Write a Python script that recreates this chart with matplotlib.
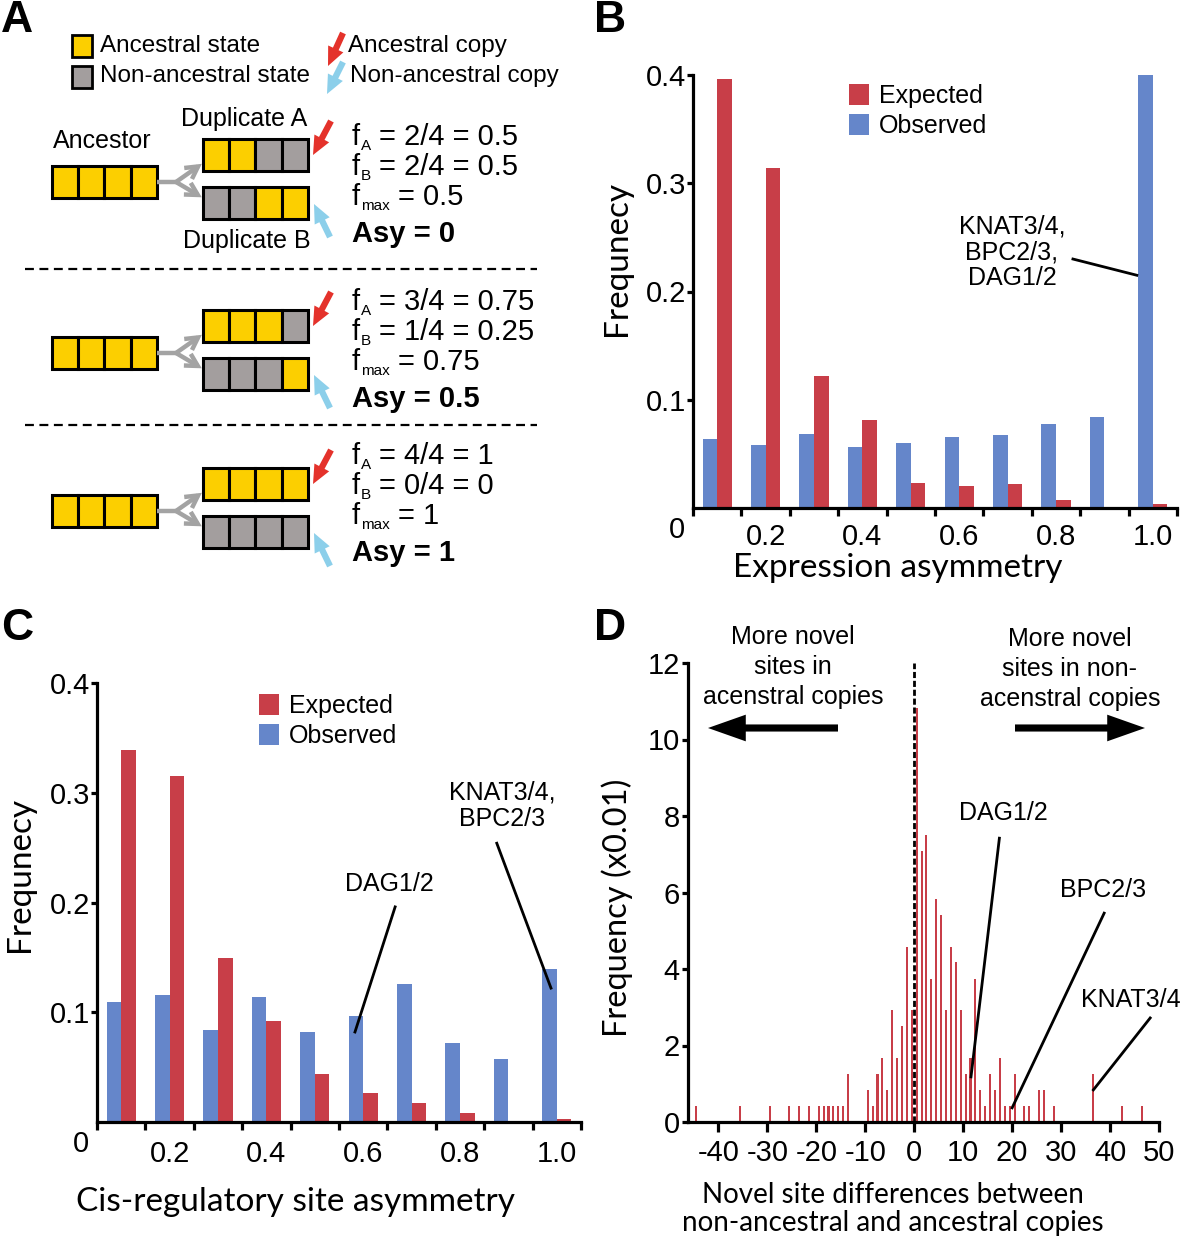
import numpy as np
import matplotlib
matplotlib.use("Agg")
import matplotlib.pyplot as plt
from matplotlib.patches import Rectangle, FancyArrowPatch
from matplotlib.ticker import FixedLocator

plt.rcParams['font.family'] = ['Liberation Sans', 'DejaVu Sans']
plt.rcParams['axes.unicode_minus'] = False

W, H = 1180, 1239
RED = '#C83E48'
BLUE = '#6586CA'
YELLOW = '#FCCF00'
GRAY = '#A39E9E'
FORK = '#A3A3A3'
ARROW_RED = '#E4322B'
ARROW_BLUE = '#8CCFEA'
LABEL_FONT = ['Lato', 'DejaVu Sans']

# panel A
dup_a_states = [[1, 1, 0, 0], [1, 1, 1, 0], [1, 1, 1, 1]]
dup_b_states = [[0, 0, 1, 1], [0, 0, 0, 1], [0, 0, 0, 0]]
fa_text = ['2/4 = 0.5', '3/4 = 0.75', '4/4 = 1']
fb_text = ['2/4 = 0.5', '1/4 = 0.25', '0/4 = 0']
fmax_text = ['0.5', '0.75', '1']
asy_text = ['0', '0.5', '1']

# panel B
bins = [0.1, 0.2, 0.3, 0.4, 0.5, 0.6, 0.7, 0.8, 0.9, 1.0]
expr_expected = [0.396, 0.314, 0.122, 0.081, 0.023, 0.020, 0.022, 0.007, 0.0, 0.004]
expr_observed = [0.064, 0.058, 0.068, 0.056, 0.060, 0.066, 0.067, 0.078, 0.084, 0.400]

# panel C
cis_expected = [0.339, 0.315, 0.149, 0.092, 0.044, 0.026, 0.017, 0.008, 0.0, 0.003]
cis_observed = [0.109, 0.116, 0.084, 0.114, 0.082, 0.097, 0.126, 0.072, 0.057, 0.139]

# panel D
d_diff = [-45, -36, -30, -26, -24, -22, -20, -19, -18, -17, -16, -15, -14,
          -10, -9, -8, -7, -6, -5, -4, -3, -2, -1, 0, 1, 2, 3, 4, 5, 6, 7, 8,
          9, 10, 11, 12, 13, 14, 15, 16, 17, 18, 19, 20, 22, 23, 25, 26, 28,
          36, 42, 46]
d_freq = [0.42, 0.42, 0.42, 0.42, 0.42, 0.42, 0.42, 0.42, 0.42, 0.42, 0.42, 0.42, 1.25,
          0.83, 0.42, 1.25, 1.67, 0.83, 2.92, 1.67, 2.5, 4.58, 2.92, 10.83, 7.08, 7.5,
          3.75, 5.83, 5.42, 2.92, 4.58, 4.17, 2.92, 1.25, 1.67, 3.75, 0.83, 0.42, 1.25,
          0.83, 1.67, 0.42, 0.42, 1.25, 0.42, 0.42, 0.83, 0.83, 0.42, 1.25, 0.42, 0.42]


def fx(px):
    return px / W


def fy(py):
    return 1 - py / H


fig = plt.figure(figsize=(W / 100, H / 100), dpi=100)


def style_axes(ax):
    for s in ['top', 'right']:
        ax.spines[s].set_visible(False)
    for s in ['left', 'bottom']:
        ax.spines[s].set_linewidth(2.3)
        ax.spines[s].set_color('black')


def asym_panel(ax, expected, observed, xpad, legend_xy):
    centers = np.array(bins)
    obs = ax.bar(centers - 0.015, observed, width=0.03, color=BLUE)
    exp = ax.bar(centers + 0.015, expected, width=0.03, color=RED)
    ax.set_xlim(0.05, 1.05)
    ax.set_ylim(0, 0.4)
    style_axes(ax)
    ax.set_xticks([0.2, 0.4, 0.6, 0.8, 1.0])
    ax.set_xticklabels(['0.2', '0.4', '0.6', '0.8', '1.0'])
    ax.xaxis.set_minor_locator(FixedLocator(np.arange(0.05, 1.06, 0.1)))
    ax.tick_params(axis='x', which='major', length=0, pad=xpad, labelsize=21)
    ax.tick_params(axis='x', which='minor', length=6, width=2.3, direction='out')
    ax.set_yticks([0.1, 0.2, 0.3, 0.4])
    ax.set_yticklabels(['0.1', '0.2', '0.3', '0.4'])
    ax.tick_params(axis='y', length=4, width=2.3, pad=1, labelsize=21)
    ax.annotate('0', xy=(0, 0), xycoords='axes fraction', xytext=(-16, -22),
                textcoords='offset pixels', ha='center', va='center', fontsize=21)
    ax.legend([exp, obs], ['Expected', 'Observed'], frameon=False, fontsize=18,
              loc='upper left', bbox_to_anchor=(fx(legend_xy[0]), fy(legend_xy[1])),
              bbox_transform=fig.transFigure, borderpad=0, borderaxespad=0,
              handlelength=0.8, handleheight=0.9, handletextpad=0.4, labelspacing=0.25)


# panel B
ax_b = fig.add_axes([fx(693), fy(508), 484 / W, 433 / H])
asym_panel(ax_b, expr_expected, expr_observed, 11, (849, 84))
ax_b.plot([0.835, 0.967], [0.230, 0.215], color='black', lw=2)
ax_b.text(0.709, 0.236, 'KNAT3/4,\nBPC2/3,\nDAG1/2', ha='center', va='center',
          fontsize=18, linespacing=1.1)

# panel C
ax_c = fig.add_axes([fx(97), fy(1122), 484 / W, 439 / H])
asym_panel(ax_c, cis_expected, cis_observed, 13, (259, 694))
ax_c.plot([0.666, 0.583], [0.196, 0.082], color='black', lw=2)
ax_c.text(0.655, 0.217, 'DAG1/2', ha='center', va='center', fontsize=18)
ax_c.plot([0.876, 0.988], [0.254, 0.122], color='black', lw=2)
ax_c.text(0.887, 0.288, 'KNAT3/4,\nBPC2/3', ha='center', va='center',
          fontsize=18, linespacing=1.1)

# panel D
ax_d = fig.add_axes([fx(688), fy(1122), 471 / W, 459 / H])
ax_d.bar(np.array(d_diff) + 0.5, d_freq, width=0.42, color=RED)
ax_d.axvline(0, color='black', lw=2, ls=(0, (2.2, 1.0)))
ax_d.set_xlim(-46.2, 50)
ax_d.set_ylim(0, 12)
style_axes(ax_d)
ax_d.set_xticks(np.arange(-40, 51, 10))
ax_d.set_yticks(np.arange(0, 13, 2))
ax_d.tick_params(axis='x', length=7, width=2.3, pad=5, labelsize=21)
ax_d.tick_params(axis='y', length=4, width=2.3, pad=2, labelsize=21)
ax_d.plot([17.4, 11.6], [7.42, 1.18], color='black', lw=2)
ax_d.text(18.2, 8.07, 'DAG1/2', ha='center', va='center', fontsize=18)
ax_d.plot([38.8, 20.0], [5.46, 0.37], color='black', lw=2)
ax_d.text(38.6, 6.07, 'BPC2/3', ha='center', va='center', fontsize=18)
ax_d.plot([48.2, 36.6], [2.72, 0.84], color='black', lw=2)
ax_d.text(34.0, 3.19, 'KNAT3/4', ha='left', va='center', fontsize=18, clip_on=False)

# overlay in pixel coordinates for panel A and free text
ov = fig.add_axes([0, 0, 1, 1])
ov.set_xlim(0, W)
ov.set_ylim(H, 0)
ov.axis('off')
ov.patch.set_alpha(0)

for letter, px, py in [('A', 17, 20), ('B', 610, 20), ('C', 17, 628), ('D', 610, 628)]:
    ov.text(px, py, letter, fontsize=32, fontweight='bold', ha='center', va='center')

# axis titles
ov.text(617, 258, 'Frequnecy', rotation=90, ha='center', va='center', fontsize=24, family=LABEL_FONT)
ov.text(20, 874, 'Frequnecy', rotation=90, ha='center', va='center', fontsize=24, family=LABEL_FONT)
ov.text(617, 908, 'Frequency (x0.01)', rotation=90, ha='center', va='center', fontsize=23.5, family=LABEL_FONT)
ov.text(898, 568, 'Expression asymmetry', ha='center', va='center', fontsize=24, family=LABEL_FONT)
ov.text(295, 1202, 'Cis-regulatory site asymmetry', ha='center', va='center', fontsize=24, family=LABEL_FONT)
ov.text(893, 1209, 'Novel site differences between\nnon-ancestral and ancestral copies',
        ha='center', va='center', fontsize=20, family=LABEL_FONT, linespacing=1.08)

# panel D direction notes
ov.text(793, 667, 'More novel\nsites in\nacenstral copies', ha='center', va='center',
        fontsize=18, linespacing=1.3)
ov.text(1070, 669, 'More novel\nsites in non-\nacenstral copies', ha='center', va='center',
        fontsize=18, linespacing=1.3)
for x0, x1 in [(838, 708), (1015, 1145)]:
    ov.add_patch(FancyArrowPatch((x0, 728), (x1, 728), arrowstyle='simple,head_length=1.7,head_width=1.2,tail_width=0.32',
                                 mutation_scale=16, color='black', lw=0, shrinkA=0, shrinkB=0))

# panel A legend
ov.add_patch(Rectangle((72, 35), 20, 22, facecolor=YELLOW, edgecolor='black', lw=2))
ov.add_patch(Rectangle((72, 66), 20, 22, facecolor=GRAY, edgecolor='black', lw=2))
ov.text(100, 46, 'Ancestral state', ha='left', va='center', fontsize=17.5)
ov.text(100, 76, 'Non-ancestral state', ha='left', va='center', fontsize=17.5)


def copy_arrow(p0, p1, color):
    ov.add_patch(FancyArrowPatch(p0, p1, arrowstyle='simple,head_length=0.9,head_width=0.8,tail_width=0.3',
                                 mutation_scale=15, color=color, lw=0, shrinkA=0, shrinkB=0))


copy_arrow((343, 33), (328, 66), ARROW_RED)
copy_arrow((343, 62), (327, 94), ARROW_BLUE)
ov.text(348, 46, 'Ancestral copy', ha='left', va='center', fontsize=17.5)
ov.text(350, 76, 'Non-ancestral copy', ha='left', va='center', fontsize=17.5)

cell_w, cell_h = 26.2, 32
row_tops = [139, 310, 468]
text_tops = [137, 302, 456]


def cells(x0, y0, states):
    for i, s in enumerate(states):
        ov.add_patch(Rectangle((x0 + i * cell_w, y0), cell_w, cell_h,
                               facecolor=YELLOW if s else GRAY, edgecolor='black', lw=2.2))


def f_line(y, sub, rest, rest_x):
    ov.text(352, y, 'f', ha='left', va='center', fontsize=21)
    ov.text(361, y + 9, sub, ha='left', va='center', fontsize=11)
    ov.text(rest_x, y, rest, ha='left', va='center', fontsize=21)


for r in range(3):
    top = row_tops[r]
    anc_top = top + 27
    b_top = top + 48
    cells(52, anc_top, [1, 1, 1, 1])
    cells(203, top, dup_a_states[r])
    cells(203, b_top, dup_b_states[r])
    mid = anc_top + cell_h / 2
    ov.plot([157, 177], [mid, mid], color=FORK, lw=3.2, solid_capstyle='butt')
    for tip in [top + 24, b_top + 11]:
        ov.add_patch(FancyArrowPatch((176, mid), (203, tip), arrowstyle='->,head_length=0.4,head_width=0.22',
                                     mutation_scale=22, color=FORK, lw=3.2, shrinkA=0, shrinkB=1,
                                     capstyle='butt', joinstyle='miter'))
    copy_arrow((331, top - 18), (313, top + 16), ARROW_RED)
    copy_arrow((330, b_top + 50), (314, b_top + 17), ARROW_BLUE)
    ty = text_tops[r]
    f_line(ty, 'A', '= ' + fa_text[r], 379)
    f_line(ty + 30, 'B', '= ' + fb_text[r], 379)
    f_line(ty + 60, 'max', '= ' + fmax_text[r], 398)
    ov.text(352, ty + 97, 'Asy = ' + asy_text[r], ha='left', va='center', fontsize=21, fontweight='bold')

ov.text(102, 141, 'Ancestor', ha='center', va='center', fontsize=18)
ov.text(244, 119, 'Duplicate A', ha='center', va='center', fontsize=18)
ov.text(247, 241, 'Duplicate B', ha='center', va='center', fontsize=18)

for y in [269, 425]:
    ov.plot([25, 537], [y, y], color='black', lw=1.6, ls=(0, (4, 2.5)))

fig.savefig('out.png', dpi=100)
